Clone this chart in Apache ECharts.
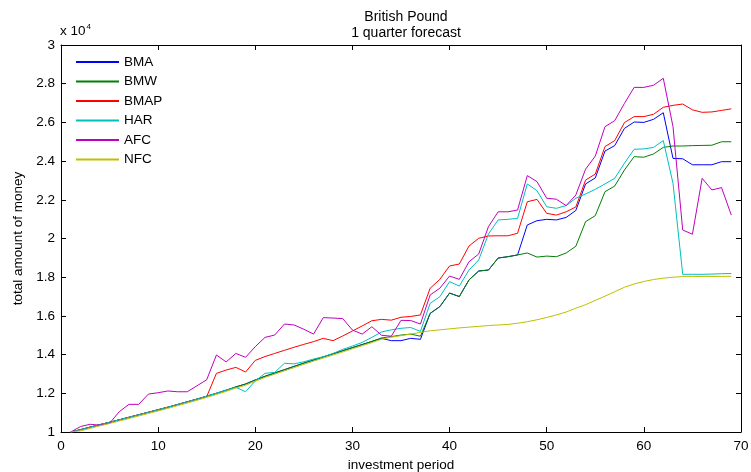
<!DOCTYPE html>
<html>
<head>
<meta charset="utf-8">
<script src="https://cdn.jsdelivr.net/npm/echarts@6/dist/echarts.min.js"></script>
<style>
  html, body { margin: 0; padding: 0; background: #fff; }
  #chart { width: 751px; height: 472px; }
</style>
</head>
<body>
<div id="chart"></div>
<script>
const periods = [1,2,3,4,5,6,7,8,9,10,11,12,13,14,15,16,17,18,19,20,
  21,22,23,24,25,26,27,28,29,30,31,32,33,34,35,36,37,38,39,40,
  41,42,43,44,45,46,47,48,49,50,51,52,53,54,55,56,57,58,59,60,
  61,62,63,64,65,66,67,68,69];

const bma = [10000,10120,10250,10380,10500,10630,10760,10890,11020,11150,
  11280,11420,11560,11700,11850,12000,12160,12330,12480,12690,
  12880,13050,13220,13390,13560,13720,13880,14040,14200,14360,
  14520,14680,14840,14720,14720,14840,14790,16130,16480,17180,
  17000,17860,18320,18370,18990,19060,19150,20700,20920,20990,
  20960,21090,21450,22820,23130,24520,24800,25690,26020,26000,
  26160,26500,24140,24120,23810,23810,23810,23970,23970];

const bmw = [10000,10120,10250,10380,10500,10630,10760,10890,11020,11150,
  11280,11420,11560,11700,11850,12000,12160,12330,12480,12690,
  12880,13050,13220,13390,13560,13720,13880,14040,14200,14360,
  14520,14680,14860,14930,15010,15060,14950,16130,16480,17180,
  17000,17860,18320,18370,18990,19060,19150,19250,19040,19090,
  19060,19250,19600,20870,21180,22420,22710,23540,24230,24200,
  24370,24710,24780,24780,24800,24810,24820,25000,25000];

const bmap = [10000,10120,10250,10380,10500,10630,10760,10890,11020,11150,
  11280,11420,11560,11700,11830,13030,13200,13340,13100,13700,
  13900,14060,14220,14380,14530,14670,14840,14720,14960,15220,
  15480,15750,15820,15780,15930,15970,16050,17430,17890,18580,
  18680,19610,20010,20130,20140,20140,20270,21900,22020,21300,
  21210,21380,21630,23020,23330,24750,25060,25990,26300,26300,
  26420,26780,26880,26950,26650,26520,26540,26620,26700];

const har = [10000,10120,10250,10380,10500,10630,10760,10890,11020,11150,
  11280,11420,11560,11700,11850,12000,12160,12310,12080,12640,
  13030,13080,13550,13520,13630,13770,13890,14060,14270,14440,
  14630,14890,15170,15280,15360,15400,15200,16650,16990,17770,
  17540,18370,18890,20230,20960,20990,21040,22820,22470,21640,
  21560,21700,22080,22300,22540,22820,23110,23890,24610,24630,
  24710,25060,22850,18150,18150,18150,18160,18180,18190];

const afc = [10000,10280,10400,10350,10450,11050,11430,11430,11960,12030,
  12120,12080,12080,12390,12700,13980,13620,14060,13860,14410,
  14890,15010,15580,15530,15310,15060,15910,15890,15860,15270,
  15060,15440,15000,14950,15770,15760,15580,17080,17430,18060,
  17890,18800,19200,20610,21380,21380,21470,23250,22940,22080,
  22030,21700,22250,23580,24260,25780,26090,26980,27810,27810,
  27920,28280,25780,20440,20220,23110,22510,22630,21210];

const nfc = [10000,10060,10190,10320,10440,10570,10700,10830,10960,11090,
  11220,11360,11500,11640,11790,11940,12100,12270,12420,12630,
  12820,12990,13160,13330,13500,13660,13820,13980,14140,14300,
  14460,14620,14800,14900,14980,15060,15150,15230,15280,15330,
  15380,15420,15460,15500,15530,15560,15620,15700,15800,15920,
  16050,16200,16400,16580,16800,17020,17250,17480,17650,17780,
  17880,17950,18000,18030,18030,18040,18040,18040,18050];

const names = ['BMA', 'BMW', 'BMAP', 'HAR', 'AFC', 'NFC'];
const colors = ['#0000ff', '#008000', '#ff0000', '#00bfbf', '#bf00bf', '#bfbf00'];
const values = [bma, bmw, bmap, har, afc, nfc];

const font = 'Liberation Sans, Arial, Helvetica, sans-serif';

let chart = echarts.init(document.getElementById('chart'));

// box frame: every side gets inward ticks like the original plot
const frameAxis = {
  axisLine: { show: true, onZero: false, lineStyle: { color: '#000', width: 1 } },
  axisTick: { show: true, inside: true, length: 5, lineStyle: { color: '#000' } },
  splitLine: { show: false }
};

chart.setOption({
  animation: false,
  backgroundColor: '#fff',
  textStyle: { fontFamily: font },
  title: {
    text: 'British Pound\n1 quarter forecast',
    left: 401,
    top: 4,
    textAlign: 'center',
    textStyle: { fontSize: 14, fontWeight: 'normal', color: '#000', lineHeight: 16, fontFamily: font }
  },
  graphic: [{
    type: 'text',
    left: 60,
    top: 23,
    style: {
      text: '{a|x 10}{b|4}',
      rich: {
        a: { fontSize: 13.5, fontFamily: font, fill: '#000' },
        b: { fontSize: 8, fontFamily: font, fill: '#000', verticalAlign: 'top', padding: [0, 0, 8, 1] }
      }
    }
  }],
  legend: {
    orient: 'vertical',
    left: 75,
    top: 55,
    padding: 0,
    itemWidth: 43,
    itemHeight: 14,
    itemGap: 5.5,
    itemStyle: { opacity: 0 },
    textStyle: { fontSize: 13.5, color: '#000', fontFamily: font },
    data: names
  },
  grid: { left: 61, right: 10, top: 45, bottom: 40, outerBoundsMode: 'none', containLabel: false },
  xAxis: [{
    type: 'value', min: 0, max: 70, interval: 10,
    name: 'investment period', nameLocation: 'middle', nameGap: 18,
    nameTextStyle: { fontSize: 13.5, color: '#000' },
    axisLabel: { color: '#000', fontSize: 13.5, margin: 7 },
    ...frameAxis
  }, {
    type: 'value', min: 0, max: 70, interval: 10, position: 'top',
    axisLabel: { show: false },
    ...frameAxis
  }],
  yAxis: [{
    type: 'value', min: 10000, max: 30000, interval: 2000,
    name: 'total amount of money', nameLocation: 'middle', nameGap: 29,
    nameTextStyle: { fontSize: 13.5, color: '#000' },
    axisLabel: { color: '#000', fontSize: 13.5, margin: 6, formatter: v => String(v / 10000) },
    ...frameAxis
  }, {
    type: 'value', min: 10000, max: 30000, interval: 2000, position: 'right',
    axisLabel: { show: false },
    ...frameAxis
  }],
  series: names.map((name, i) => {
    return {
      name: name,
      type: 'line',
      xAxisIndex: 0,
      yAxisIndex: 0,
      symbol: 'none',
      color: colors[i],
      lineStyle: { width: 1, color: colors[i] },
      data: periods.map((p, j) => [p, values[i][j]])
    }
  })
});
</script>
</body>
</html>
